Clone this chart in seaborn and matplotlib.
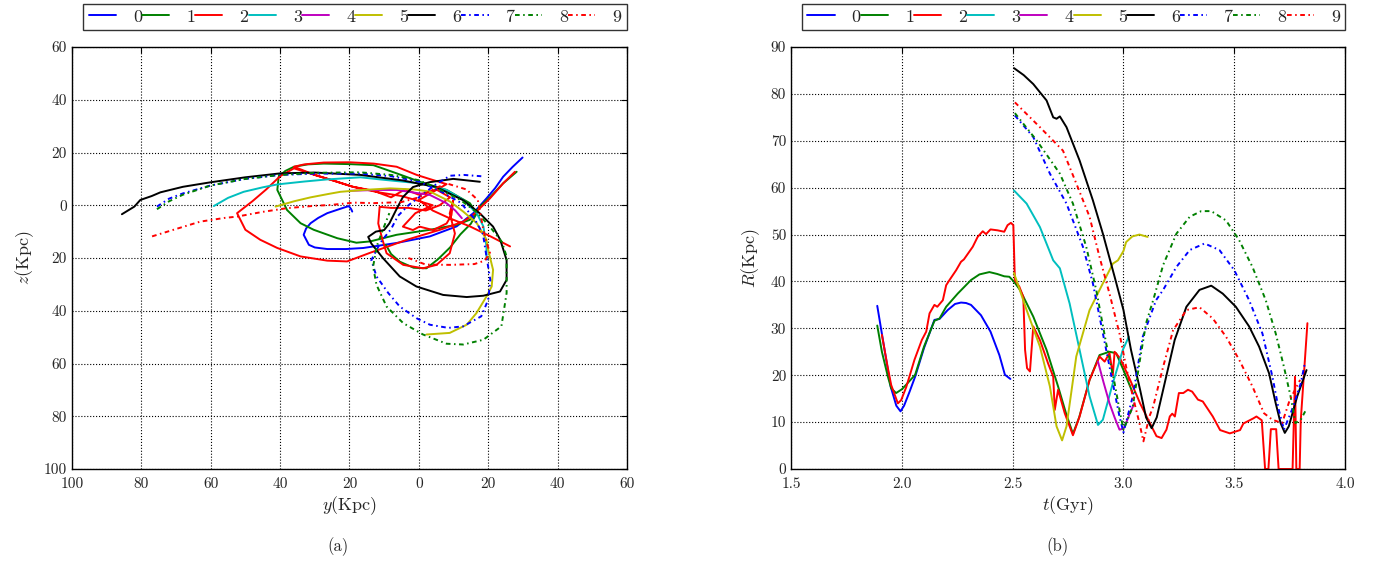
import pandas as pd
import matplotlib
matplotlib.use("Agg")
import matplotlib.pyplot as plt
from matplotlib.ticker import FuncFormatter, MultipleLocator
import seaborn as sns

# --- data ---
labels = [str(i) for i in range(10)]

# (a) orbits projected on the y-z plane (Kpc)
y0 = [29.9, 27, 24.3, 22, 19.5, 15.7, 10.9, 3.2, -6.4, -16, -21, -26.4, -30, -31.7, -33.2, -32.5, -31.2, -29, -26.4, -23, -20.2, -19.5, -19.2]
z0 = [18.1, 14.5, 10.8, 6.5, 2.6, -3, -8, -11.8, -14.3, -16.2, -16.6, -16.6, -16, -15, -11.2, -8.8, -6.8, -4.8, -3, -1.5, -0.3, -1.5, -2.4]

y1 = [28.2, 24.3, 20.5, 17.6, 14.7, 10.9, 3.2, -6.4, -14, -18, -23.5, -30.3, -34.1, -38, -40.8, -40.4, -38.5, -36, -32, -27.4, -20, -13.1, -6.4, 0.3, 8, 14.7, 16.7, 15, 12, 9, 5.5, 2.2, -1.5, -5.5, -8, -9.5]
z1 = [12.7, 8.3, 3, -0.5, -5.5, -7.4, -9.3, -11.2, -13.7, -14.2, -12.5, -9.3, -6.8, -1.8, 5.8, 10.8, 13, 14.6, 15.5, 15.8, 15.6, 15.2, 12.1, 8.9, 5.8, 0.8, -3, -7, -11, -16, -20.5, -23.9, -23.7, -21.4, -18.5, -15]

y2 = [26.3, 20.5, 14.7, 9, 4, 0, 4, 8, 3, -0.6, -6.4, -13, -20, -27.4, -33, -36, -30, -25, -19, -13, -8, -4, 0, 5, 9, 6, 2, -3, -8,
      -11.3, -11.7, -10.5, -9.3, -4.5, 1.2, 5.1, 8.9, 10.4, 8.9, 9.9, 9.4, 8, 4.1, 0.2, -1.7, -4.6, -1, 4, -1, -5, -12, -19,
      -25, -30, -36, -40, -44, -48, -52.4,
      -50, -45.7, -40.8, -34.1, -26.4, -20.7, -14, -3.5, 6.1, 12.8, 15.7, 20.5, 24.3, 27.7]
z2 = [-15.6, -11.7, -8, -5, -2, 2, 5, 8, 10, 11.5, 14.6, 15.8, 16.3, 16.2, 15.5, 14.6, 11.5, 9.5, 7, 5.5, 3, 6, 4, 6, 3, 0, -2, -1, -1,
      -0.6, -6.9, -13, -18.2, -22.6, -23.9, -22.6, -18.2, -10.7, -3.1, 1.9, -3.75, -6.9, -9.4, -8.1, -9.4, -8.1, -3, 0, 2, 3.5, 5, 7,
      9.5, 11.5, 14, 11, 6, 1.5, -3,
      -9.3, -13.1, -16.2, -19.4, -21, -21.3, -18, -13.1, -9.3, -6.2, -3.6, 2.6, 8.3, 12.7]

y3 = [-59.1, -55, -50.5, -45, -40.8, -33, -26.4, -16.8, -11.2, 0.3, 8, 12.8, 16.7, 18.6, 19.5, 19.5]
z3 = [-0.3, 2.8, 5.1, 6.8, 7.9, 9, 9.8, 10.6, 9.8, 8.3, 5.8, 2, -3, -8, -15.6, -20]

y4 = [-19.7, -12, -6.4, 3.2, 8, 10.5, 12.4]
z4 = [5.5, 5.8, 5.8, 3.9, 0.75, -2, -4.9]

y5 = [-41.3, -36, -31.2, -26, -22.6, -16, -8.3, -1.5, 3.2, 9, 12.8, 16.7, 19.5, 20, 21.4, 21, 19.5, 16.6, 13.8, 8.9, 2.2]
z5 = [-0.5, 1.5, 3, 4.3, 5.1, 5.8, 6.4, 6, 5.2, 1.4, -2.4, -6.8, -13, -17, -24.5, -30.8, -34.6, -40.9, -45.3, -48.4, -49]

y6 = [-85.6, -82, -80.3, -77, -74.5, -68, -60.1, -50, -39.9, -30, -16.8, -4.6, 5, 12.8, 17.6, 21.4, 23.5, 25.3, 25.3, 23.4, 18.6,
      13.8, 7, -0.7, -5.5, -10.3, -13.7, -14.6, -12.4, -10, -8.5, -6.6, -4.6, -1.7, 3.1, 9.9, 17.6]
z6 = [-3.4, -0.5, 2, 3.5, 4.9, 7, 8.7, 10.6, 12.1, 12.4, 11.5, 9.4, 6.9, 1.9, -3.1, -8.1, -13.2, -20.8, -28.3, -32.7, -34.3,
      -34.8, -34, -30.8, -27, -20.1, -14.5, -12, -10, -9.4, -6.9, -1.9, 3.1, 6.9, 8.75, 10, 8.9]

y7 = [-75.5, -72, -68, -60, -50, -40, -30, -17, -8, 0, 6, 12, 16, 18.5, 19.5, 20.6, 20, 18, 12.8, 8.5, 3.2, -0.7, -5.5, -8.8,
      -12.2, -13.7, -11, -8, -6, -3, 1, 5, 9, 13, 18]
z7 = [-0.5, 2.5, 4.5, 7.5, 10, 11.5, 12, 12, 11, 9, 5.5, 1, -5, -11, -19.5, -28.3, -35.8, -42.1, -45.9, -46.5, -45.3, -42.8,
      -38.4, -33.3, -27, -20.8, -14, -9, -4, 0, 4, 8, 11.2, 11.5, 11]

y8 = [-75.5, -72, -68, -60, -50, -40, -30, -17, -8, 0, 6, 12, 17, 21, 24, 25.3, 25.3, 23.8, 18.6, 12.8, 8, 1.2, -4.5, -9.3,
      -12.2, -13.2, -12, -10, -8.5]
z8 = [-1.5, 1.5, 4, 7.5, 10, 11.5, 12.3, 12.5, 11.5, 9.5, 6, 2, -3, -9, -14, -19.5, -33.3, -45.9, -51, -52.8, -52.5, -49,
      -44.7, -38.4, -30.2, -23.3, -15, -8, -3]

y9 = [-76.9, -70, -63, -56, -52.4, -45, -38, -30, -25.6, -18.7, -13.1, -5, 0, 4, 8, 13.7, 17, 18.6, 19.5, 20.5, 19, 16, 9, 2, -3]
z9 = [-11.8, -9, -6.2, -4.8, -4.3, -2.5, -1.1, -0.2, 0.1, 1, 0.8, 1.2, 3, 6, 8.3, 6, 2, -9.3, -14, -18, -21, -22.3, -22.6, -22.5, -20]

# (b) distance R (Kpc) against time t (Gyr)
t0 = [1.889, 1.92, 1.95, 1.975, 1.994, 2.01, 2.035, 2.06, 2.10, 2.147, 2.17, 2.207, 2.24, 2.267, 2.29, 2.312, 2.357, 2.40, 2.44, 2.465, 2.49]
r0 = [34.8, 26, 17.5, 13.5, 12.3, 13.5, 16.5, 19.7, 25.8, 31.8, 32, 33.9, 35.2, 35.5, 35.4, 35, 32.8, 29.3, 24.3, 20.1, 19.2]

t1 = [1.889, 1.91, 1.937, 1.952, 1.974, 2.0, 2.02, 2.06, 2.10, 2.147, 2.17, 2.2, 2.252, 2.312, 2.35, 2.395, 2.43, 2.462, 2.485,
      2.507, 2.533, 2.593, 2.653, 2.705, 2.74, 2.772, 2.80, 2.847, 2.892, 2.937, 2.967, 3.0, 3.042]
r1 = [30.6, 25, 19.7, 17.2, 16.2, 17, 18, 20.1, 26.1, 31.6, 32.1, 34.6, 37.4, 40.3, 41.5, 42, 41.6, 41.1, 41,
      39.9, 38.2, 32.5, 25.4, 17.6, 12, 7.5, 11, 19, 24.3, 25, 24.7, 21.1, 16.2]

t2 = [1.91, 1.935, 1.952, 1.982, 1.997, 2.02, 2.057, 2.09, 2.11, 2.125, 2.147, 2.16, 2.185, 2.2, 2.215, 2.245, 2.267, 2.28, 2.32,
      2.342, 2.365, 2.38, 2.4, 2.432, 2.462, 2.477, 2.492, 2.503,
      2.51, 2.53, 2.548, 2.556, 2.565, 2.578, 2.593, 2.623, 2.66, 2.683, 2.69, 2.705, 2.735, 2.772, 2.802, 2.847, 2.892, 2.915,
      2.937, 2.952, 2.96, 2.985, 3.03, 3.075, 3.119, 3.149, 3.172, 3.194, 3.209, 3.22, 3.232, 3.25, 3.27, 3.291, 3.31, 3.336,
      3.358, 3.403, 3.436, 3.48, 3.526, 3.541, 3.586, 3.6, 3.624, 3.639, 3.654, 3.665, 3.689, 3.70, 3.763, 3.774, 3.78, 3.795,
      3.80, 3.83]
r2 = [28.6, 22, 17.9, 14, 14.7, 17.5, 23.3, 27.5, 29.3, 33.2, 35, 34.6, 36, 39.2, 40.3, 42.4, 44.2, 44.7, 47.4,
      49.5, 50.7, 50.1, 51.1, 50.9, 50.6, 52, 52.5, 52,
      40.3, 38.9, 36.7, 25.4, 21.5, 20.8, 30.4, 27.5, 22.5, 19.7, 12.6, 16.9, 11.9, 7.2, 11.2, 19, 24, 22.9,
      24.7, 20.1, 25, 23.6, 19, 14, 9.8, 7, 6.6, 8.4, 11.2, 11.8, 11.2, 16.2, 16.2, 16.9, 16.5, 14.8,
      14.4, 11.2, 8.3, 7.6, 8.3, 9.7, 10.8, 11.2, 10.4, 0, 0, 8.5, 8.5, 0, 0, 19.7, 0, 0,
      10.4, 31.1]

t3 = [2.506, 2.563, 2.623, 2.683, 2.713, 2.757, 2.802, 2.847, 2.885, 2.907, 2.952, 2.997, 3.024]
r3 = [59.4, 56.6, 51.6, 44.5, 42.8, 35.3, 25.4, 15.5, 9.4, 10.5, 18.3, 25.4, 28.2]

t4 = [2.885, 2.91, 2.937, 2.96, 2.982, 3.0, 3.012, 3.03, 3.049]
r4 = [22.9, 18.5, 14, 11, 8.4, 8.6, 9.8, 12, 14]

t5 = [2.506, 2.563, 2.623, 2.668, 2.698, 2.723, 2.743, 2.765, 2.787, 2.847, 2.907, 2.952, 2.975, 3.0, 3.012, 3.04, 3.072, 3.109]
r5 = [41.8, 33.9, 26.1, 17.6, 9.1, 6.1, 9.1, 16.5, 24, 33.9, 39.6, 43.8, 44.5, 46.5, 48.4, 49.6, 50, 49.5]

t6 = [2.506, 2.55, 2.593, 2.653, 2.683, 2.698, 2.713, 2.743, 2.802, 2.862, 2.907, 2.96, 3.0, 3.034, 3.075, 3.102, 3.127, 3.15,
      3.179, 3.231, 3.284, 3.343, 3.396, 3.448, 3.507, 3.567, 3.612, 3.657, 3.687, 3.709, 3.728, 3.746, 3.784, 3.826]
r6 = [85.5, 84, 82.1, 78.6, 75, 74.7, 75.2, 72.9, 65.8, 57.3, 50.2, 41, 33.9, 25.4, 16.9, 11, 8.7, 11,
      16.9, 27.5, 34.6, 38.2, 39.1, 37.4, 34.6, 30.4, 26.1, 20.4, 14, 9.8, 7.7, 9.1, 15.5, 21.1]

t7 = [2.51, 2.593, 2.668, 2.743, 2.817, 2.862, 2.892, 2.922, 2.952, 2.982, 3.0, 3.042, 3.087, 3.147, 3.179, 3.239, 3.299, 3.366,
      3.433, 3.5, 3.567, 3.627, 3.672, 3.701, 3.724, 3.76, 3.8, 3.82]
r7 = [75.4, 70.8, 63, 56.6, 47.4, 39.6, 32.5, 25.4, 18.3, 11.2, 7.8, 15.5, 28.2, 36, 38.2, 43.1, 46.7, 48.1,
      46.7, 42.4, 36, 28.9, 19.7, 12.6, 8.4, 12.6, 18.3, 22.9]

t8 = [2.51, 2.608, 2.713, 2.772, 2.832, 2.877, 2.922, 2.96, 2.982, 3.0, 3.042, 3.072, 3.102, 3.134, 3.179, 3.239, 3.299, 3.351,
      3.396, 3.463, 3.522, 3.582, 3.642, 3.687, 3.724, 3.754, 3.776, 3.8, 3.82]
r8 = [75.9, 70.1, 63, 56.6, 47.4, 38.2, 26.8, 18.3, 12.6, 8.4, 13.3, 22.6, 31.1, 36, 43.5, 50.2, 53.8, 55,
      55, 53, 48.8, 43.1, 36, 28.9, 21.8, 15.5, 9.8, 10.5, 12.3]

t9 = [2.51, 2.623, 2.727, 2.787, 2.847, 2.892, 2.937, 2.982, 3.012, 3.042, 3.072, 3.09, 3.117, 3.134, 3.179, 3.224, 3.284, 3.343,
      3.403, 3.463, 3.522, 3.582, 3.634, 3.672, 3.716, 3.75, 3.797]
r9 = [78.2, 72.9, 67.9, 60.9, 53.8, 45.2, 37.4, 28.9, 21.8, 15.5, 9.8, 5.9, 11.2, 13.3, 21.8, 29.6, 33.9, 34.5,
      32.1, 28.2, 23.3, 17.6, 11.9, 10.5, 9.8, 14.7, 19]

orbit_y = [y0, y1, y2, y3, y4, y5, y6, y7, y8, y9]
orbit_z = [z0, z1, z2, z3, z4, z5, z6, z7, z8, z9]
times = [t0, t1, t2, t3, t4, t5, t6, t7, t8, t9]
radii = [r0, r1, r2, r3, r4, r5, r6, r7, r8, r9]

# classic matplotlib colour cycle, last three dash-dotted
colors = ['b', 'g', 'r', 'c', 'm', 'y', 'k', 'b', 'g', 'r']
dashdot = (0, (2.4, 1.8, 0.8, 1.8))
styles = ['-'] * 7 + [dashdot] * 3

sns.set_style("white")
plt.rcParams['font.family'] = 'serif'
plt.rcParams['font.serif'] = ['cmr10', 'DejaVu Serif']
plt.rcParams['mathtext.fontset'] = 'cm'
plt.rcParams['axes.unicode_minus'] = False

fig = plt.figure(figsize=(13.81, 5.65), dpi=100)
ax_a = fig.add_axes([0.0521, 0.1699, 0.4019, 0.7469])
ax_b = fig.add_axes([0.5728, 0.1699, 0.4012, 0.7469])

for i in range(10):
    df_a = pd.DataFrame({'y': orbit_y[i], 'z': orbit_z[i]})
    sns.lineplot(data=df_a, x='y', y='z', sort=False, estimator=None, ax=ax_a,
                 color=colors[i], linestyle=styles[i], linewidth=1.4, label=labels[i])
    df_b = pd.DataFrame({'t': times[i], 'R': radii[i]})
    sns.lineplot(data=df_b, x='t', y='R', sort=False, estimator=None, ax=ax_b,
                 color=colors[i], linestyle=styles[i], linewidth=1.4, label=labels[i])

abs_fmt = FuncFormatter(lambda v, p: f"{abs(v):g}")

ax_a.set_xlim(-100, 60)
ax_a.set_ylim(-100, 60)
ax_a.xaxis.set_major_locator(MultipleLocator(20))
ax_a.yaxis.set_major_locator(MultipleLocator(20))
ax_a.xaxis.set_major_formatter(abs_fmt)
ax_a.yaxis.set_major_formatter(abs_fmt)
ax_a.set_xlabel(r'$y$(Kpc)', fontsize=13, labelpad=2)
ax_a.set_ylabel(r'$z$(Kpc)', fontsize=13, labelpad=6)

ax_b.set_xlim(1.5, 4.0)
ax_b.set_ylim(0, 90)
ax_b.xaxis.set_major_locator(MultipleLocator(0.5))
ax_b.yaxis.set_major_locator(MultipleLocator(10))
ax_b.xaxis.set_major_formatter(FuncFormatter(lambda v, p: f"{v:.1f}"))
ax_b.set_xlabel(r'$t$(Gyr)', fontsize=13, labelpad=2)
ax_b.set_ylabel(r'$R$(Kpc)', fontsize=13, labelpad=6)

for ax in (ax_a, ax_b):
    ax.grid(True, color='k', linestyle=':', linewidth=0.8)
    ax.tick_params(direction='in', top=True, right=True, length=4, labelsize=11, color='k')
    ax.tick_params(axis='x', pad=6)
    for sp in ax.spines.values():
        sp.set_color('k')
        sp.set_linewidth(1.0)
    ax.legend(loc='lower center', bbox_to_anchor=(0.51, 1.04), ncol=10, frameon=True, fancybox=False,
              edgecolor='k', fontsize=13, columnspacing=0.0, handlelength=1.5, handletextpad=0.95,
              borderpad=0.3, borderaxespad=0.0)
    ax.get_legend().get_frame().set_linewidth(1.0)

fig.text(338 / 1381, 1 - 547 / 565, '(a)', ha='center', va='center', fontsize=12)
fig.text(1058 / 1381, 1 - 547 / 565, '(b)', ha='center', va='center', fontsize=12)

fig.savefig('out.png', dpi=100)
